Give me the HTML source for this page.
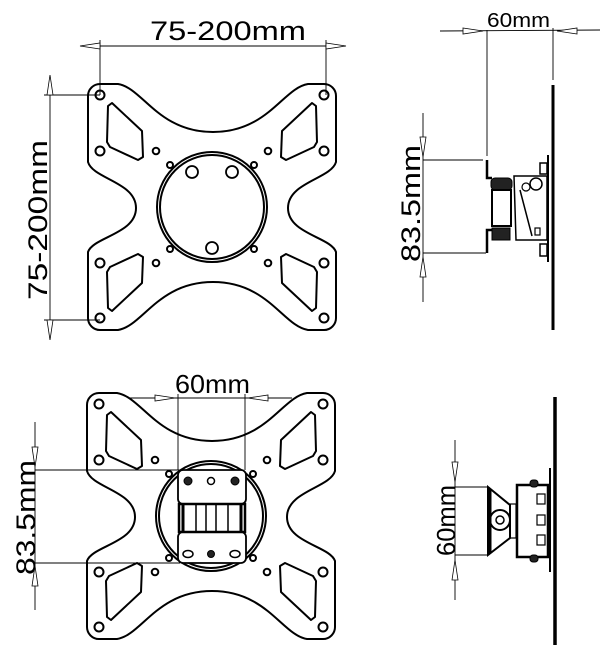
<!DOCTYPE html>
<html><head><style>html,body{margin:0;padding:0;background:#fff}svg{display:block}text{font-family:"Liberation Sans",sans-serif;fill:#000}</style></head><body>
<svg width="610" height="665" viewBox="0 0 610 665" xmlns="http://www.w3.org/2000/svg">
<defs>
<g id="plate" fill="none" stroke="#000" stroke-width="2" stroke-linejoin="round">
<path d="M12,0 H30 C55,4 70,48 125,48 C180,48 195,4 220,0 H236 A12,12 0 0 1 248,12 V78 C243,95 200,98 200,124 C200,150 243,153 248,168 V234 A12,12 0 0 1 236,246 H220 C195,242 180,198 125,198 C70,198 55,242 30,246 H12 A12,12 0 0 1 0,234 V168 C5,153 48,150 48,124 C48,98 5,95 0,78 V12 A12,12 0 0 1 12,0 Z"/>
<g id="slot"><path d="M20,22 L24,19 L54,47 L55,73 L50,76 L22,63 L19,58 Z"/></g>
<use href="#slot" transform="matrix(-1,0,0,1,248,0)"/>
<use href="#slot" transform="matrix(1,0,0,-1,0,246)"/>
<use href="#slot" transform="matrix(-1,0,0,-1,248,246)"/>
<circle cx="12" cy="11" r="4.5"/><circle cx="12" cy="67" r="4.5"/><circle cx="12" cy="179" r="4.5"/><circle cx="12" cy="234" r="4.5"/>
<circle cx="236" cy="11" r="4.5"/><circle cx="236" cy="67" r="4.5"/><circle cx="236" cy="179" r="4.5"/><circle cx="236" cy="234" r="4.5"/>
<circle cx="68" cy="67" r="3.3"/><circle cx="180" cy="67" r="3.3"/><circle cx="68" cy="179" r="3.3"/><circle cx="180" cy="179" r="3.3"/>
<circle cx="82" cy="81" r="3"/><circle cx="166" cy="81" r="3"/><circle cx="82" cy="165" r="3"/><circle cx="166" cy="165" r="3"/>
<circle cx="124" cy="123" r="55"/><circle cx="124" cy="123" r="52"/>
</g>
<path id="arR" d="M0,-3 L20,0 L0,3 Z" fill="#fff" stroke="#000" stroke-width="0.8"/>
</defs>
<g stroke="#000" stroke-width="0.9" fill="none">
<use href="#plate" transform="translate(88,84)"/>
<g fill="none" stroke="#000" stroke-width="1.8"><circle cx="192" cy="172" r="6"/><circle cx="232" cy="172" r="6"/><circle cx="212" cy="248" r="6"/></g>
<line x1="100" y1="40" x2="100" y2="95"/><line x1="326" y1="40" x2="326" y2="95"/>
<line x1="100" y1="46" x2="326" y2="46"/>
<line x1="44" y1="95" x2="100" y2="95"/><line x1="44" y1="320" x2="100" y2="320"/>
<line x1="50" y1="95" x2="50" y2="320"/>
</g>
<use href="#arR" transform="translate(100,46) rotate(180)"/><use href="#arR" transform="translate(326,46)"/>
<use href="#arR" transform="translate(50,95) rotate(-90)"/><use href="#arR" transform="translate(50,320) rotate(90)"/>
<text x="150" y="40" font-size="27" textLength="156" lengthAdjust="spacingAndGlyphs">75-200mm</text>
<text transform="translate(47,300) rotate(-90)" font-size="27" textLength="160" lengthAdjust="spacingAndGlyphs">75-200mm</text>

<g stroke="#000" stroke-width="0.9" fill="none">
<line x1="440" y1="31" x2="600" y2="30"/>
<line x1="487" y1="30" x2="487" y2="156"/><line x1="553" y1="28" x2="553" y2="80"/>
<line x1="423" y1="113" x2="423" y2="302"/>
<line x1="423" y1="160" x2="483" y2="160"/><line x1="423" y1="253" x2="486" y2="253"/>
</g>
<use href="#arR" transform="translate(463,31)"/><use href="#arR" transform="translate(577,31) rotate(180)"/>
<use href="#arR" transform="translate(423,137) rotate(90)"/><use href="#arR" transform="translate(423,277) rotate(-90)"/>
<text x="487" y="27" font-size="20" textLength="63" lengthAdjust="spacingAndGlyphs">60mm</text>
<text transform="translate(420,262) rotate(-90)" font-size="27" textLength="117" lengthAdjust="spacingAndGlyphs">83.5mm</text>
<g stroke="#000" fill="none">
<line x1="553" y1="85" x2="553" y2="330" stroke-width="3"/>
<path d="M548,155 L548,262" stroke-width="2"/>
<path d="M487,160 V178 H492 M487,253 V230 H492" stroke-width="2.5"/>
<rect x="491" y="178" width="21" height="12" rx="4" fill="#222" stroke-width="1"/>
<rect x="492" y="190" width="19" height="36" stroke-width="2"/>
<rect x="492" y="228" width="18" height="12" fill="#222" stroke-width="1"/>
<path d="M514,176 H547 V240 H516 Z M520,190 L532,236" stroke-width="1.5"/>
<circle cx="536" cy="184" r="6" stroke-width="1.5"/><circle cx="526" cy="187" r="4" stroke-width="1.2"/>
<rect x="540" y="163" width="7" height="11" stroke-width="1.5"/><rect x="540" y="244" width="7" height="12" stroke-width="1.5"/>
<rect x="535" y="228" width="5" height="7" stroke-width="1.2"/>
</g>

<use href="#plate" transform="translate(87,393)"/>
<g stroke="#000" stroke-width="0.9" fill="none">
<line x1="130" y1="398" x2="292" y2="398"/>
<line x1="178" y1="394" x2="178" y2="470"/><line x1="245" y1="394" x2="245" y2="470"/>
<line x1="35" y1="422" x2="35" y2="610"/>
<line x1="35" y1="470" x2="180" y2="470"/><line x1="35" y1="563" x2="180" y2="563"/>
</g>
<use href="#arR" transform="translate(155,398)"/><use href="#arR" transform="translate(268,398) rotate(180)"/>
<use href="#arR" transform="translate(35,447) rotate(90)"/><use href="#arR" transform="translate(35,586) rotate(-90)"/>
<text x="175" y="393" font-size="26" textLength="75" lengthAdjust="spacingAndGlyphs">60mm</text>
<text transform="translate(35,575) rotate(-90)" font-size="27" textLength="115" lengthAdjust="spacingAndGlyphs">83.5mm</text>
<g stroke="#000" fill="none">
<rect x="178" y="470" width="68" height="34" rx="5" fill="#fff" stroke-width="1.8"/>
<rect x="178" y="532" width="68" height="31" rx="5" fill="#fff" stroke-width="1.8"/>
<rect x="179" y="504" width="66" height="28" fill="#fff" stroke-width="2.5"/>
<line x1="183" y1="504" x2="183" y2="532" stroke-width="3"/><line x1="196" y1="504" x2="196" y2="532" stroke-width="1.5"/><line x1="206" y1="504" x2="206" y2="532" stroke-width="1.5"/><line x1="216" y1="504" x2="216" y2="532" stroke-width="1.5"/><line x1="228" y1="504" x2="228" y2="532" stroke-width="1.5"/><line x1="241" y1="504" x2="241" y2="532" stroke-width="3"/>
<circle cx="188" cy="481" r="4" fill="#222"/><circle cx="211" cy="481" r="3.5" stroke-width="1.5"/><circle cx="235" cy="481" r="4" fill="#222"/>
<ellipse cx="188" cy="554" rx="5" ry="3.5" stroke-width="1.5"/><circle cx="211" cy="554" r="3.5" fill="#222"/><ellipse cx="235" cy="554" rx="5" ry="3.5" stroke-width="1.5"/>
</g>

<g stroke="#000" stroke-width="0.9" fill="none">
<line x1="455" y1="440" x2="455" y2="600"/>
<line x1="455" y1="487" x2="488" y2="487"/><line x1="455" y1="555" x2="488" y2="555"/>
</g>
<use href="#arR" transform="translate(455,462) rotate(90)"/><use href="#arR" transform="translate(455,580) rotate(-90)"/>
<text transform="translate(455,556) rotate(-90)" font-size="26" textLength="71" lengthAdjust="spacingAndGlyphs">60mm</text>
<g stroke="#000" fill="none">
<line x1="555" y1="397" x2="555" y2="645" stroke-width="3.5"/>
<path d="M550,468 V572" stroke-width="2"/>
<path d="M488,487 L510,505 L510,538 L488,555 Z" stroke-width="2"/>
<line x1="490" y1="489" x2="490" y2="553" stroke-width="3"/>
<circle cx="500" cy="520" r="10" stroke-width="2"/><circle cx="500" cy="520" r="4" stroke-width="1.5"/>
<rect x="510" y="504" width="6" height="34" stroke-width="1.2"/>
<path d="M517,485 H548 V557 H517 Z" stroke-width="2.5"/>
<rect x="530" y="480" width="8" height="7" rx="3" fill="#222"/><rect x="530" y="555" width="8" height="7" rx="3" fill="#222"/>
<rect x="537" y="494" width="8" height="10" stroke-width="1.2"/><rect x="537" y="515" width="8" height="10" stroke-width="1.2"/><rect x="537" y="535" width="8" height="10" stroke-width="1.2"/>
</g>
</svg>
</body></html>
